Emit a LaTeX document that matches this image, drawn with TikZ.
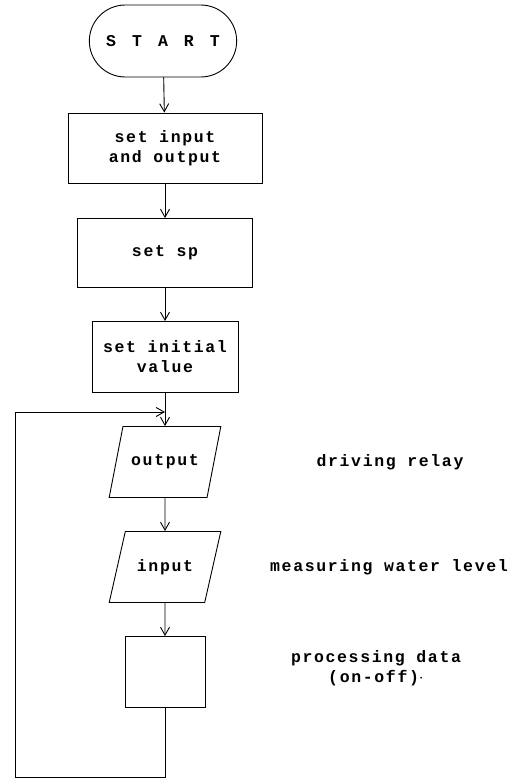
\documentclass[tikz,border=0pt]{standalone}
\usepackage{fontspec}
\usetikzlibrary{shapes.misc, shapes.geometric, arrows.meta}
\newfontfamily\flowfont[LetterSpace=10]{Liberation Mono}
\newcommand{\flowtext}{\flowfont\bfseries\fontsize{16.5}{20}\selectfont}

\tikzset{
  flow/.style={-{Straight Barb[length=8pt,width=9pt]}, line width=0.9pt},
  stepbox/.style={draw, line width=0.9pt, font=\flowtext, align=center},
  iobox/.style={draw, line width=0.9pt, trapezium, trapezium left angle=60, trapezium right angle=120,
    minimum height=71pt, minimum width=112pt, trapezium stretches, font=\flowtext},
  remark/.style={font=\flowtext, align=center}
}

\begin{document}
\begin{tikzpicture}[x=1pt, y=-1pt]
\useasboundingbox (0,0) rectangle (517,779);
% inizio
\node[draw, line width=0.9pt, rounded rectangle, minimum width=154pt, minimum height=72pt,
  font=\flowtext] (start) at (163,41)
  {S\hspace{16pt}T\hspace{16pt}A\hspace{16pt}R\hspace{16pt}T};
% inizializzazione
\node[stepbox, minimum width=194pt, minimum height=70pt] (setio) at (165,148) {set input\\and output};
\node[stepbox, minimum width=175pt, minimum height=69pt] (setsp) at (165,253) {set sp};
\node[stepbox, minimum width=146pt, minimum height=71pt] (setinit) at (165,357) {set initial\\value};
% ciclo
\node[iobox] (out) at (165,462) {output};
\node[iobox] (inp) at (165,567) {input};
\node[draw, line width=0.9pt, minimum width=80pt, minimum height=71pt] (proc) at (165,672) {};
% commenti a destra
\node[remark] (drv) at (390,462) {driving relay};
\node[remark] (meas) at (389,567) {measuring water level};
\node[remark] (pdata) at (376,668) {processing data\\(on-off)$\cdot$};
% frecce
\draw[flow] (start) -- (setio);
\draw[flow] (setio) -- (setsp);
\draw[flow] (setsp) -- (setinit);
\draw[flow] (setinit) -- (out);
\draw[flow] (out) -- (inp);
\draw[flow] (inp) -- (proc);
% ritorno
\coordinate (loopbl) at (15,777);
\coordinate (loopjoin) at (165,412);
\draw[flow] (proc.south) |- (loopbl) |- (loopjoin);
\end{tikzpicture}
\end{document}
